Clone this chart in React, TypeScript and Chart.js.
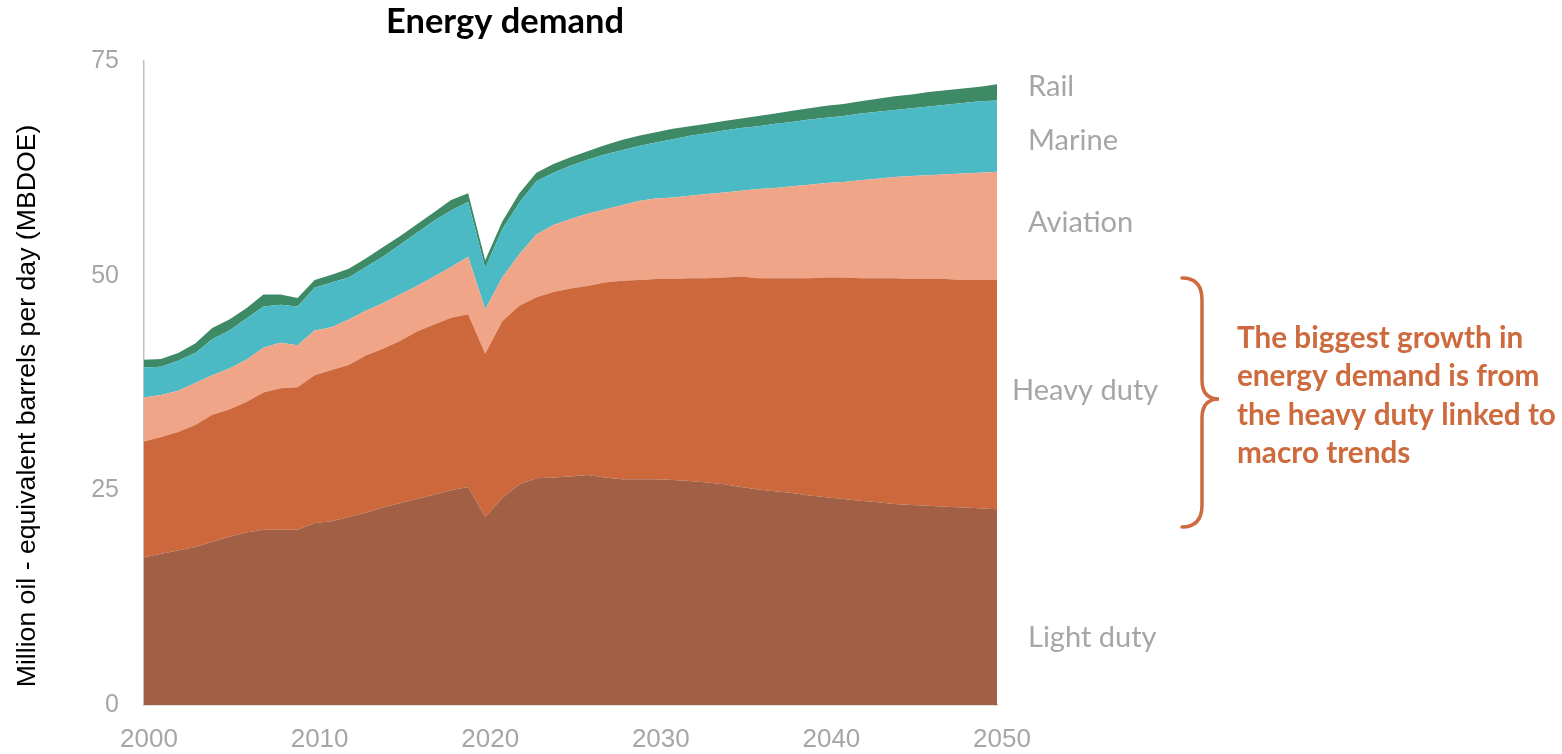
import React, { useEffect, useRef } from "react";
import { Chart, registerables } from "chart.js";

Chart.register(...registerables);

// Transport energy demand by segment, million oil-equivalent barrels per day
const YEARS = [
  2000, 2001, 2002, 2003, 2004, 2005, 2006, 2007, 2008, 2009,
  2010, 2011, 2012, 2013, 2014, 2015, 2016, 2017, 2018, 2019,
  2020, 2021, 2022, 2023, 2024, 2025, 2026, 2027, 2028, 2029,
  2030, 2031, 2032, 2033, 2034, 2035, 2036, 2037, 2038, 2039,
  2040, 2041, 2042, 2043, 2044, 2045, 2046, 2047, 2048, 2049,
  2050,
];

const LIGHT_DUTY = [
  17.2, 17.6, 18.0, 18.4, 19.0, 19.6, 20.1, 20.4, 20.4, 20.4,
  21.2, 21.4, 21.9, 22.4, 23.0, 23.5, 24.0, 24.5, 25.0, 25.4,
  21.9, 24.1, 25.7, 26.4, 26.5, 26.6, 26.8, 26.5, 26.3, 26.3,
  26.3, 26.2, 26.1, 25.9, 25.7, 25.4, 25.1, 24.9, 24.7, 24.4,
  24.2, 24.0, 23.8, 23.6, 23.4, 23.3, 23.2, 23.1, 23.0, 22.9,
  22.8,
];

const HEAVY_DUTY = [
  13.5, 13.6, 13.8, 14.2, 14.8, 14.8, 15.2, 16.0, 16.5, 16.6,
  17.2, 17.6, 17.7, 18.3, 18.5, 18.9, 19.5, 19.8, 20.1, 20.1,
  19.0, 20.6, 20.8, 21.1, 21.6, 21.9, 22.0, 22.7, 23.1, 23.2,
  23.3, 23.4, 23.6, 23.8, 24.1, 24.5, 24.6, 24.8, 25.0, 25.3,
  25.6, 25.8, 25.9, 26.1, 26.3, 26.3, 26.4, 26.5, 26.5, 26.6,
  26.7,
];

const AVIATION = [
  5.1, 4.9, 4.8, 4.9, 4.6, 4.8, 4.9, 5.2, 5.3, 4.9,
  5.2, 5.0, 5.3, 5.2, 5.3, 5.4, 5.3, 5.6, 5.9, 6.7,
  5.2, 5.1, 6.0, 7.3, 7.8, 8.1, 8.4, 8.5, 8.8, 9.2,
  9.4, 9.5, 9.6, 9.8, 9.9, 10.0, 10.4, 10.5, 10.7, 10.9,
  11.0, 11.1, 11.4, 11.6, 11.8, 12.0, 12.1, 12.2, 12.4, 12.5,
  12.6,
];

const MARINE = [
  3.5, 3.3, 3.5, 3.5, 4.2, 4.4, 4.8, 4.8, 4.4, 4.5,
  5.0, 5.2, 4.9, 5.1, 5.4, 5.8, 6.2, 6.5, 6.6, 6.4,
  4.8, 5.6, 6.0, 6.2, 6.1, 6.2, 6.3, 6.4, 6.4, 6.4,
  6.5, 6.8, 7.0, 7.1, 7.2, 7.3, 7.3, 7.5, 7.5, 7.6,
  7.6, 7.7, 7.8, 7.8, 7.8, 7.9, 8.0, 8.1, 8.2, 8.3,
  8.3,
];

const RAIL = [
  0.9, 0.9, 0.9, 1.1, 1.3, 1.3, 1.2, 1.4, 1.2, 1.0,
  0.9, 0.9, 1.0, 1.0, 1.1, 1.0, 1.0, 1.0, 1.2, 1.0,
  0.9, 0.9, 1.1, 1.0, 1.0, 1.0, 1.0, 1.1, 1.2, 1.2,
  1.2, 1.2, 1.1, 1.1, 1.1, 1.1, 1.2, 1.2, 1.3, 1.3,
  1.4, 1.4, 1.4, 1.5, 1.6, 1.6, 1.7, 1.7, 1.7, 1.7,
  1.9,
];

const X_TICKS = [2000, 2010, 2020, 2030, 2040, 2050];
const Y_TICKS = [0, 25, 50, 75];

const TITLE = "Energy demand";
const Y_TITLE = "Million oil - equivalent barrels per day (MBDOE)";
const NOTE_LINES = [
  "The biggest growth in",
  "energy demand is from",
  "the heavy duty linked to",
  "macro trends",
];

const COLORS = {
  light: "#A15F45",
  heavy: "#CC683B",
  aviation: "#F1A588",
  marine: "#4BBAC5",
  rail: "#3F8A66",
  note: "#CD6A3E",
  grey: "#A6A6A6",
  axis: "#BFBFBF",
};

// Segment labels to the right of the plot: [text, x, baseline]
const SEGMENT_LABELS: [string, number, number][] = [
  ["Rail", 1028, 96],
  ["Marine", 1028, 150],
  ["Aviation", 1028, 232],
  ["Heavy duty", 1012, 400],
  ["Light duty", 1028, 647],
];

const toPoints = (values: number[]) =>
  YEARS.map((x, i) => ({ x, y: values[i] }));

// font size that makes `text` span `width` pixels
function fitSize(
  ctx: CanvasRenderingContext2D,
  text: string,
  weight: string,
  family: string,
  width: number
) {
  ctx.font = `${weight} 100px ${family}`;
  return (100 * width) / ctx.measureText(text).width;
}

const overlayPlugin = {
  id: "overlay",
  afterDraw(chart: Chart) {
    const ctx = chart.ctx;
    ctx.save();

    // chart title
    const titleSize = fitSize(ctx, TITLE, "bold", "Lato", 238);
    ctx.font = `bold ${titleSize}px Lato`;
    ctx.fillStyle = "#000000";
    ctx.textAlign = "center";
    ctx.textBaseline = "alphabetic";
    ctx.fillText(TITLE, 505, 33);

    // y axis title
    const yTitleSize = fitSize(ctx, Y_TITLE, "normal", "'Liberation Sans'", 563);
    ctx.save();
    ctx.translate(35, 406);
    ctx.rotate(-Math.PI / 2);
    ctx.font = `normal ${yTitleSize}px 'Liberation Sans'`;
    ctx.fillStyle = "#000000";
    ctx.textAlign = "center";
    ctx.fillText(Y_TITLE, 0, 0);
    ctx.restore();

    // segment labels
    const segSize = fitSize(ctx, "Marine", "normal", "Lato", 90);
    ctx.font = `normal ${segSize}px Lato`;
    ctx.fillStyle = COLORS.grey;
    ctx.textAlign = "left";
    SEGMENT_LABELS.forEach(([t, x, y]) => ctx.fillText(t, x, y));

    // curly brace
    ctx.strokeStyle = COLORS.note;
    ctx.lineWidth = 3.5;
    ctx.lineCap = "round";
    ctx.beginPath();
    ctx.moveTo(1182, 278);
    ctx.quadraticCurveTo(1202, 278, 1202, 300);
    ctx.lineTo(1202, 380);
    ctx.quadraticCurveTo(1202, 399, 1219, 399);
    ctx.quadraticCurveTo(1202, 399, 1202, 418);
    ctx.lineTo(1202, 505);
    ctx.quadraticCurveTo(1202, 527, 1182, 527);
    ctx.stroke();

    // note text
    const noteSize = fitSize(ctx, NOTE_LINES[2], "bold", "Lato", 319);
    ctx.font = `bold ${noteSize}px Lato`;
    ctx.fillStyle = COLORS.note;
    NOTE_LINES.forEach((line, i) => ctx.fillText(line, 1237, 348 + i * 38.3));

    ctx.restore();
  },
};

export default function App() {
  const canvasRef = useRef<HTMLCanvasElement | null>(null);

  useEffect(() => {
    if (!canvasRef.current) return;
    const area = (label: string, values: number[], color: string, fill: string | boolean) => ({
      label,
      data: toPoints(values),
      backgroundColor: color,
      borderColor: color,
      borderWidth: 0,
      pointRadius: 0,
      tension: 0,
      fill,
    });

    const chart = new Chart(canvasRef.current, {
      type: "line",
      data: {
        datasets: [
          area("Light duty", LIGHT_DUTY, COLORS.light, "origin"),
          area("Heavy duty", HEAVY_DUTY, COLORS.heavy, "-1"),
          area("Aviation", AVIATION, COLORS.aviation, "-1"),
          area("Marine", MARINE, COLORS.marine, "-1"),
          area("Rail", RAIL, COLORS.rail, "-1"),
        ],
      },
      options: {
        animation: false,
        responsive: true,
        maintainAspectRatio: false,
        layout: { padding: { left: 0, top: 61, right: 565, bottom: 0 } },
        plugins: {
          legend: { display: false },
          tooltip: { enabled: false },
          title: { display: false },
        },
        scales: {
          x: {
            type: "linear",
            min: 2000,
            max: 2050,
            grid: { display: false, drawTicks: false },
            border: { display: true, color: COLORS.axis, width: 1.5 },
            afterBuildTicks: (s: any) => {
              s.ticks = X_TICKS.map((v) => ({ value: v }));
            },
            afterFit: (s: any) => {
              s.height = 49;
            },
            ticks: {
              color: COLORS.grey,
              font: { family: "'Liberation Sans', Arial", size: 26 },
              padding: 19,
              labelOffset: 5,
              maxRotation: 0,
              callback: (v: any) => String(v),
            },
          },
          y: {
            stacked: true,
            min: 0,
            max: 75,
            grid: { display: false, drawTicks: false },
            border: { display: true, color: COLORS.axis, width: 1.5 },
            afterBuildTicks: (s: any) => {
              s.ticks = Y_TICKS.map((v) => ({ value: v }));
            },
            afterFit: (s: any) => {
              s.width = 144;
            },
            ticks: {
              color: COLORS.grey,
              font: { family: "'Liberation Sans', Arial", size: 25 },
              padding: 25,
            },
          },
        },
      },
      plugins: [overlayPlugin],
    } as any);

    return () => chart.destroy();
  }, []);

  return (
    <div
      style={{
        position: "fixed",
        left: 0,
        top: 0,
        width: 1562,
        height: 754,
        background: "#ffffff",
      }}
    >
      <canvas ref={canvasRef} />
    </div>
  );
}
